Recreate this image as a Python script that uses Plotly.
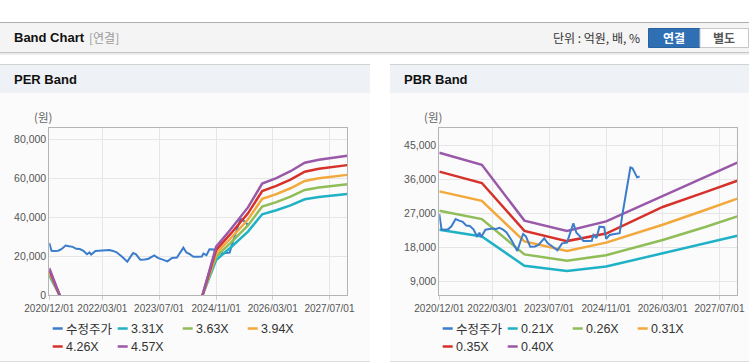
import plotly.graph_objects as go

# ---------------- data ----------------
price_name = "수정주가"
price_dates = ["2020-12-01", "2020-12-20", "2021-01-15", "2021-02-15", "2021-03-15", "2021-04-20",
               "2021-05-20", "2021-06-20", "2021-07-20", "2021-08-20", "2021-09-20", "2021-10-20",
               "2021-11-10", "2021-11-25", "2022-01-01", "2022-02-01", "2022-03-01", "2022-04-01",
               "2022-05-01", "2022-06-01", "2022-07-01", "2022-08-15", "2022-10-01", "2022-11-01",
               "2022-11-20", "2022-12-15", "2023-01-20", "2023-03-01", "2023-04-01", "2023-05-20",
               "2023-06-20", "2023-08-01", "2023-09-10", "2023-10-20", "2023-12-01", "2024-01-25",
               "2024-02-20", "2024-03-20", "2024-04-20", "2024-06-01", "2024-07-01", "2024-07-15",
               "2024-08-10", "2024-09-05", "2024-10-15", "2024-11-01", "2024-12-01", "2025-01-01",
               "2025-02-25", "2025-03-20", "2025-04-25", "2025-05-28", "2025-06-15", "2025-07-25",
               "2025-08-15"]
price_values = [26800, 22800, 22700, 22800, 23600, 25500,
                25100, 24800, 23800, 23700, 22800, 21000,
                21900, 20800, 22700, 22900, 23000, 22900,
                23200, 22700, 22000, 19800, 17100, 20000,
                21600, 20900, 18200, 18300, 18700, 20400,
                19100, 18200, 17300, 19100, 19300, 24400,
                21900, 21000, 19700, 19700, 19800, 21300,
                20500, 23500, 23400, 20300, 21300, 21500,
                21800, 26600, 33600, 39100, 38900, 36500,
                36700]

# PER band
per_labels = ["3.31X", "3.63X", "3.94X", "4.26X", "4.57X"]
per_dates = ["2020-12-01", "2021-03-01", "2021-04-01", "2024-06-01", "2024-11-01", "2025-03-01",
             "2025-08-01", "2025-12-01", "2026-04-01", "2026-08-01", "2026-12-01", "2027-04-01",
             "2027-12-01"]
per_331 = [9980, -230, None, -5690, 18040, 24230, 32670, 41570, 43630, 46170, 49320, 50480, 51970]
per_363 = [10940, -250, None, -6240, 19780, 26570, 35830, 45590, 47840, 50640, 54090, 55360, 56990]
per_394 = [11880, -280, None, -6780, 21470, 28840, 38890, 49490, 51930, 54960, 58710, 60090, 61860]
per_426 = [12840, -300, None, -7330, 23220, 31180, 42050, 53510, 56150, 59430, 63470, 64970, 66880]
per_457 = [13780, -320, None, -7860, 24910, 33450, 45110, 57400, 60230, 63750, 68090, 69690, 71750]

# PBR band
pbr_labels = ["0.21X", "0.26X", "0.31X", "0.35X", "0.40X"]
pbr_dates = ["2020-12-01", "2021-12-01", "2022-12-01", "2023-12-01", "2024-11-01",
             "2026-03-01", "2027-03-01", "2027-12-01"]
pbr_021 = [22700, 20900, 13200, 11800, 13000, 16500, 19100, 21100]
pbr_026 = [27700, 25500, 16200, 14500, 16000, 20000, 23400, 26200]
pbr_031 = [32800, 30300, 19600, 17100, 19300, 24000, 27900, 30900]
pbr_035 = [38000, 35000, 22400, 19700, 21700, 28700, 32600, 35600]
pbr_040 = [43000, 39800, 25100, 22400, 24900, 31600, 36600, 40400]

x_tick_vals = ["2020-12-01", "2022-03-01", "2023-07-01", "2024-11-01", "2026-03-01", "2027-07-01"]
x_tick_text = ["2020/12/01", "2022/03/01", "2023/07/01", "2024/11/01", "2026/03/01", "2027/07/01"]
per_y_ticks = [0, 20000, 40000, 60000, 80000]
pbr_y_ticks = [9000, 18000, 27000, 36000, 45000]

# ---------------- styling ----------------
W, H = 749, 364
price_color = "#3b7dcb"
band_colors = ["#1fb1c6", "#8fbd57", "#f3a83b", "#d7312b", "#9a59a8"]
FONT = "Liberation Sans, Noto Sans CJK KR, sans-serif"
KFONT = "Noto Sans CJK KR, Liberation Sans, sans-serif"


def px(x):
    return x / W


def py(y):
    return 1 - y / H


L_LEFT, L_RIGHT = 49.3, 347.3
R_LEFT, R_RIGHT = 439.3, 737.3
P_TOP, P_BOT = 128, 295

fig = go.Figure()

# PER chart traces
fig.add_trace(go.Scatter(x=price_dates, y=price_values, mode="lines", name=price_name,
                         line=dict(color=price_color, width=2), xaxis="x", yaxis="y",
                         showlegend=False))
for lab, vals, col in zip(per_labels, [per_331, per_363, per_394, per_426, per_457], band_colors):
    fig.add_trace(go.Scatter(x=per_dates, y=vals, mode="lines", name=lab,
                             line=dict(color=col, width=2.5), xaxis="x", yaxis="y",
                             showlegend=False))

# PBR chart traces
for lab, vals, col in zip(pbr_labels, [pbr_021, pbr_026, pbr_031, pbr_035, pbr_040], band_colors):
    fig.add_trace(go.Scatter(x=pbr_dates, y=vals, mode="lines", name=lab,
                             line=dict(color=col, width=2.5), xaxis="x2", yaxis="y2",
                             showlegend=False))
fig.add_trace(go.Scatter(x=price_dates, y=price_values, mode="lines", name=price_name,
                         line=dict(color=price_color, width=2), xaxis="x2", yaxis="y2",
                         showlegend=False))

xaxis_common = dict(type="date", range=["2020-12-01", "2027-12-01"], tickmode="array",
                    tickvals=x_tick_vals, ticktext=x_tick_text, showgrid=True,
                    gridcolor="#e6e6e6", gridwidth=1, showline=True, linecolor="#b4b4b4",
                    linewidth=1, mirror=True, ticks="outside", ticklen=4, tickcolor="#d0d0d0",
                    tickfont=dict(family=FONT, size=10, color="#555555"), zeroline=False,
                    fixedrange=True, automargin=False)
yaxis_common = dict(showgrid=True, gridcolor="#e6e6e6", gridwidth=1, showline=True,
                    linecolor="#b4b4b4", linewidth=1, mirror=True, ticks="",
                    tickfont=dict(family=FONT, size=10.5, color="#555555"), zeroline=False,
                    tickformat=",d", tickmode="array", fixedrange=True, automargin=False)

shapes = []
annotations = []

# top border & header bar
shapes.append(dict(type="rect", xref="paper", yref="paper", x0=0, x1=1, y0=py(52.5), y1=py(22.5),
                   fillcolor="#f4f4f4", line=dict(width=0), layer="below"))
shapes.append(dict(type="line", xref="paper", yref="paper", x0=0, x1=1, y0=py(22.5), y1=py(22.5),
                   line=dict(color="#b0b0b0", width=1), layer="below"))
shapes.append(dict(type="line", xref="paper", yref="paper", x0=0, x1=1, y0=py(52.5), y1=py(52.5),
                   line=dict(color="#c4c4c4", width=1), layer="below"))
shapes.append(dict(type="line", xref="paper", yref="paper", x0=0, x1=1, y0=py(54), y1=py(54),
                   line=dict(color="#ececec", width=2), layer="below"))

annotations.append(dict(xref="paper", yref="paper", x=px(12), y=py(38), xanchor="left",
                        yanchor="middle", showarrow=False, text="<b>Band Chart</b>",
                        font=dict(family=FONT, size=13, color="#111111")))
annotations.append(dict(xref="paper", yref="paper", x=px(87), y=py(38), xanchor="left",
                        yanchor="middle", showarrow=False, text="[연결]",
                        font=dict(family=KFONT, size=12, color="#9a9a9a")))
annotations.append(dict(xref="paper", yref="paper", x=px(642), y=py(38), xanchor="right",
                        yanchor="middle", showarrow=False, text="단위 : 억원, 배, %",
                        font=dict(family=KFONT, size=12, color="#333333")))
# buttons
shapes.append(dict(type="rect", xref="paper", yref="paper", x0=px(648.5), x1=px(700),
                   y0=py(47.5), y1=py(28.5), fillcolor="#2f6fb4",
                   line=dict(color="#2a62a0", width=1), layer="below"))
shapes.append(dict(type="rect", xref="paper", yref="paper", x0=px(700), x1=px(748.5),
                   y0=py(47.5), y1=py(28.5), fillcolor="#ffffff",
                   line=dict(color="#c6c6c6", width=1), layer="below"))
annotations.append(dict(xref="paper", yref="paper", x=px(674), y=py(38), xanchor="center",
                        yanchor="middle", showarrow=False, text="<b>연결</b>",
                        font=dict(family=KFONT, size=12, color="#ffffff")))
annotations.append(dict(xref="paper", yref="paper", x=px(724), y=py(38), xanchor="center",
                        yanchor="middle", showarrow=False, text="<b>별도</b>",
                        font=dict(family=KFONT, size=12, color="#555555")))

# panels
for (x0, x1, title) in [(0, 370, "PER Band"), (390, 749, "PBR Band")]:
    shapes.append(dict(type="rect", xref="paper", yref="paper", x0=px(x0), x1=px(x1),
                       y0=py(361), y1=py(93), fillcolor="#fbfbfb", line=dict(width=0),
                       layer="below"))
    shapes.append(dict(type="rect", xref="paper", yref="paper", x0=px(x0), x1=px(x1),
                       y0=py(93), y1=py(64.5), fillcolor="#eef1f6", line=dict(width=0),
                       layer="below"))
    shapes.append(dict(type="line", xref="paper", yref="paper", x0=px(x0), x1=px(x1),
                       y0=py(64.5), y1=py(64.5), line=dict(color="#d2d2d2", width=1),
                       layer="below"))
    shapes.append(dict(type="line", xref="paper", yref="paper", x0=px(x0), x1=px(x1),
                       y0=py(361.5), y1=py(361.5), line=dict(color="#dcdcdc", width=1),
                       layer="below"))
    annotations.append(dict(xref="paper", yref="paper", x=px(x0 + 12), y=py(79), xanchor="left",
                            yanchor="middle", showarrow=False, text="<b>%s</b>" % title,
                            font=dict(family=FONT, size=13, color="#111111")))

# unit labels
for xl in [L_LEFT, R_LEFT]:
    annotations.append(dict(xref="paper", yref="paper", x=px(xl - 17), y=py(117), xanchor="left",
                            yanchor="middle", showarrow=False, text="(원)",
                            font=dict(family=KFONT, size=11.5, color="#666666")))

# custom legends
for left, names in [(L_LEFT, [price_name] + per_labels), (R_LEFT, [price_name] + pbr_labels)]:
    colors = [price_color] + band_colors
    for i, (nm, col) in enumerate(zip(names, colors)):
        cx = left + 3.4 + (i % 4) * 65
        cy = 328.5 + (i // 4) * 18
        shapes.append(dict(type="line", xref="paper", yref="paper", x0=px(cx), x1=px(cx + 10),
                           y0=py(cy), y1=py(cy), line=dict(color=col, width=2.5)))
        annotations.append(dict(xref="paper", yref="paper", x=px(cx + 11), y=py(cy),
                                xanchor="left", yanchor="middle", showarrow=False, text=nm,
                                font=dict(family=KFONT if i == 0 else FONT, size=12.5,
                                          color="#333333")))

fig.update_layout(
    width=W, height=H, autosize=False,
    margin=dict(l=0, r=0, t=0, b=0, pad=0),
    paper_bgcolor="#ffffff", plot_bgcolor="#ffffff",
    showlegend=False,
    xaxis=dict(xaxis_common, domain=[px(L_LEFT), px(L_RIGHT)], anchor="y"),
    yaxis=dict(yaxis_common, domain=[py(P_BOT), py(P_TOP)], range=[0, 86000],
               tickvals=per_y_ticks, anchor="x"),
    xaxis2=dict(xaxis_common, domain=[px(R_LEFT), px(R_RIGHT)], anchor="y2"),
    yaxis2=dict(yaxis_common, domain=[py(P_BOT), py(P_TOP)], range=[5500, 49500],
                tickvals=pbr_y_ticks, anchor="x2"),
    shapes=shapes,
    annotations=annotations,
)

fig.write_html("out.html", post_script="document.body.style.margin='0';",
               config={"displayModeBar": False})
